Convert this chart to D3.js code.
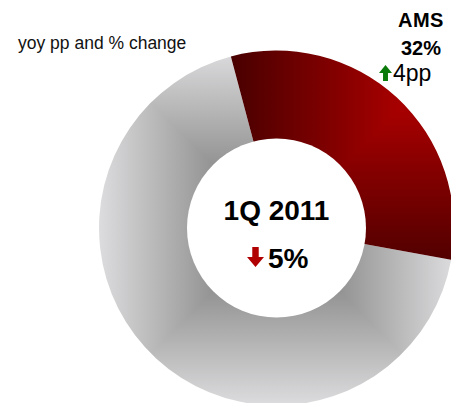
<!DOCTYPE html>
<html>
<head>
<meta charset="utf-8">
<script src="https://cdn.jsdelivr.net/npm/d3@7"></script>
<style>
  html, body { margin: 0; padding: 0; background: #fff; }
  svg { display: block; font-family: "Liberation Sans", Arial, sans-serif; }
</style>
</head>
<body>
<svg id="chart" width="451" height="403"></svg>
<script>
// Regional revenue share, 1Q 2011
const regions = ["AMS", "Rest of world"];
const shares = [32, 68];            // % of total revenue
const shareChangePP = [4, -4];      // yoy change in share, percentage points
const period = "1Q 2011";
const totalChangePct = -5;          // yoy change in total revenue, %
const subtitle = "yoy pp and % change";

const W = 451, H = 403;
const cx = 276.5, cy = 228;
const rOuter = 177.5, rHole = 89.5;

const svg = d3.select("#chart");
const defs = svg.append("defs");

const pie = d3.pie()
  .sort(null)
  .value(d => d)
  .startAngle(-0.26)
  .endAngle(2 * Math.PI - 0.26);
const arcs = pie(shares);

const arc = d3.arc().innerRadius(50).outerRadius(rOuter);

// Rectangular "path" gradient: colour depends on the larger of |dx|, |dy|
// from (gx, gy). Built from four triangles, each with its own linear ramp.
function squareFill(g, name, gx, gy, dist, stops) {
  const L = 500;
  const quads = [
    { pts: [[0, 0], [-L, -L], [L, -L]], v: [0, -1] },
    { pts: [[0, 0], [L, -L], [L, L]], v: [1, 0] },
    { pts: [[0, 0], [L, L], [-L, L]], v: [0, 1] },
    { pts: [[0, 0], [-L, L], [-L, -L]], v: [-1, 0] }
  ];
  quads.forEach((q, i) => {
    const id = `${name}-ramp-${i}`;
    const lg = defs.append("linearGradient")
      .attr("id", id)
      .attr("gradientUnits", "userSpaceOnUse")
      .attr("x1", gx).attr("y1", gy)
      .attr("x2", gx + q.v[0] * dist).attr("y2", gy + q.v[1] * dist);
    stops.forEach(s => lg.append("stop").attr("offset", s[0]).attr("stop-color", s[1]));
    g.append("polygon")
      .attr("points", q.pts.map(p => [gx + p[0], gy + p[1]].join(",")).join(" "))
      .attr("fill", `url(#${id})`)
      .attr("shape-rendering", "crispEdges");
  });
}

const sliceStyle = [
  { name: "ams", gx: 400, gy: 108, dist: 170,
    stops: [[0, "#a80000"], [1, "#480000"]] },
  { name: "row", gx: cx, gy: cy, dist: 180,
    stops: [[0, "#707070"], [0.35, "#939393"], [1, "#dedee0"]] }
];

// draw the grey slice first, AMS on top
[1, 0].forEach(i => {
  const a = arcs[i], st = sliceStyle[i];
  const clipId = `clip-${st.name}`;
  defs.append("clipPath").attr("id", clipId)
    .append("path")
    .attr("d", arc(a))
    .attr("transform", `translate(${cx},${cy})`);
  const g = svg.append("g").attr("clip-path", `url(#${clipId})`);
  squareFill(g, st.name, st.gx, st.gy, st.dist, st.stops);
});

// centre hole
svg.append("circle")
  .attr("cx", cx).attr("cy", cy).attr("r", rHole)
  .attr("fill", "#fff");

// arrow glyph: up (dir=-1) or down (dir=1), tip at (x, yTip)
function arrow(x, yTip, dir, w, h, color) {
  const hw = w / 2, sw = w * 0.19, hh = h * 0.5;
  const p = d3.path();
  p.moveTo(x, yTip);
  p.lineTo(x + hw, yTip - dir * hh);
  p.lineTo(x + sw, yTip - dir * hh);
  p.lineTo(x + sw, yTip - dir * h);
  p.lineTo(x - sw, yTip - dir * h);
  p.lineTo(x - sw, yTip - dir * hh);
  p.lineTo(x - hw, yTip - dir * hh);
  p.closePath();
  svg.append("path").attr("d", p.toString()).attr("fill", color);
}

// subtitle
svg.append("text")
  .attr("x", 18).attr("y", 49)
  .attr("font-size", 17.5)
  .attr("fill", "#111")
  .text(subtitle);

// AMS label
svg.append("text")
  .attr("x", 421).attr("y", 27)
  .attr("text-anchor", "middle")
  .attr("font-size", 20).attr("font-weight", "bold")
  .attr("letter-spacing", 0.5)
  .text(regions[0]);
svg.append("text")
  .attr("x", 421).attr("y", 55)
  .attr("text-anchor", "middle")
  .attr("font-size", 20).attr("font-weight", "bold")
  .text(`${shares[0]}%`);
arrow(385.5, 65, -1, 13, 16, "#0a7a0a");
svg.append("text")
  .attr("x", 393).attr("y", 80.5)
  .attr("font-size", 23)
  .text(`${Math.abs(shareChangePP[0])}pp`);

// centre labels
svg.append("text")
  .attr("x", cx).attr("y", 220)
  .attr("text-anchor", "middle")
  .attr("font-size", 28).attr("font-weight", "bold")
  .text(period);
arrow(255.5, 267, 1, 17, 20, "#b00000");
svg.append("text")
  .attr("x", 268).attr("y", 268)
  .attr("font-size", 28).attr("font-weight", "bold")
  .text(`${Math.abs(totalChangePct)}%`);
</script>
</body>
</html>
